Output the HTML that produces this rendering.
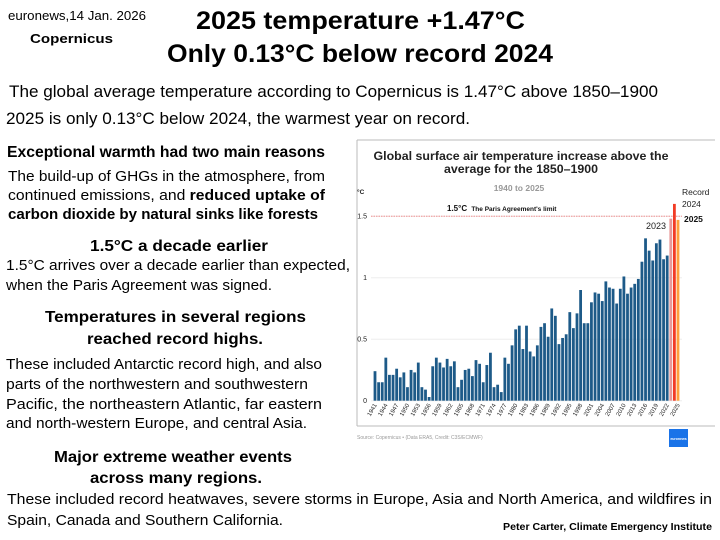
<!DOCTYPE html>
<html><head><meta charset="utf-8"><style>
html,body{margin:0;padding:0;background:#fff;}
svg{display:block;font-family:"Liberation Sans",sans-serif;}
</style></head><body>
<svg id="page" width="720" height="540" viewBox="0 0 720 540">
<g fill="#000">
<text x="8" y="20" font-size="13" textLength="138" lengthAdjust="spacingAndGlyphs">euronews,14 Jan. 2026</text>
<text x="30" y="43" font-size="13" font-weight="bold" textLength="83" lengthAdjust="spacingAndGlyphs">Copernicus</text>
<text x="196" y="29" font-size="25" font-weight="bold" textLength="329" lengthAdjust="spacingAndGlyphs">2025 temperature +1.47°C</text>
<text x="167" y="62" font-size="25" font-weight="bold" textLength="386" lengthAdjust="spacingAndGlyphs">Only 0.13°C below record 2024</text>
<text x="9" y="97" font-size="17" textLength="649" lengthAdjust="spacingAndGlyphs">The global average temperature according to Copernicus is 1.47°C above 1850–1900</text>
<text x="6" y="124" font-size="17" textLength="464" lengthAdjust="spacingAndGlyphs">2025 is only 0.13°C below 2024, the warmest year on record.</text>

<text x="7" y="157" font-size="16" font-weight="bold" textLength="318" lengthAdjust="spacingAndGlyphs">Exceptional warmth had two main reasons</text>
<text x="8" y="181" font-size="14.5" textLength="317" lengthAdjust="spacingAndGlyphs">The build-up of GHGs in the atmosphere, from</text>
<text x="8" y="200" font-size="14.5" textLength="317" lengthAdjust="spacingAndGlyphs">continued emissions, and <tspan font-weight="bold">reduced uptake of</tspan></text>
<text x="8" y="219" font-size="14.5" font-weight="bold" textLength="310" lengthAdjust="spacingAndGlyphs">carbon dioxide by natural sinks like forests</text>

<text x="90" y="251" font-size="16" font-weight="bold" textLength="178" lengthAdjust="spacingAndGlyphs">1.5°C a decade earlier</text>
<text x="6" y="270" font-size="14.5" textLength="344" lengthAdjust="spacingAndGlyphs">1.5°C  arrives over a decade earlier than expected,</text>
<text x="6" y="290" font-size="14.5" textLength="266" lengthAdjust="spacingAndGlyphs">when the Paris Agreement  was signed.</text>

<text x="45" y="322" font-size="16" font-weight="bold" textLength="261" lengthAdjust="spacingAndGlyphs">Temperatures in several regions</text>
<text x="87" y="344" font-size="16" font-weight="bold" textLength="176" lengthAdjust="spacingAndGlyphs">reached record highs.</text>
<text x="6" y="369" font-size="14.5" textLength="316" lengthAdjust="spacingAndGlyphs">These included Antarctic record high, and also</text>
<text x="6" y="389" font-size="14.5" textLength="302" lengthAdjust="spacingAndGlyphs">parts of the northwestern and southwestern</text>
<text x="6" y="409" font-size="14.5" textLength="316" lengthAdjust="spacingAndGlyphs">Pacific, the northeastern Atlantic, far eastern</text>
<text x="6" y="428" font-size="14.5" textLength="301" lengthAdjust="spacingAndGlyphs">and north-western Europe, and central Asia.</text>

<text x="54" y="462" font-size="16" font-weight="bold" textLength="238" lengthAdjust="spacingAndGlyphs">Major extreme weather events</text>
<text x="90" y="483" font-size="16" font-weight="bold" textLength="172" lengthAdjust="spacingAndGlyphs">across many regions.</text>
<text x="7" y="504" font-size="14.5" textLength="705" lengthAdjust="spacingAndGlyphs">These included record heatwaves, severe storms in Europe, Asia and North America, and wildfires in</text>
<text x="7" y="525" font-size="14.5" textLength="276" lengthAdjust="spacingAndGlyphs">Spain, Canada and Southern California.</text>
<text x="503" y="530" font-size="10" font-weight="bold" textLength="209" lengthAdjust="spacingAndGlyphs">Peter Carter, Climate Emergency Institute</text>
</g>

<g id="chart">
<line x1="357" y1="140" x2="357" y2="426" stroke="#bbb" stroke-width="1"/>
<line x1="357" y1="426" x2="715" y2="426" stroke="#bbb" stroke-width="1"/>
<line x1="357" y1="140" x2="715" y2="140" stroke="#bbb" stroke-width="1"/>
<text x="521" y="160" font-size="11.5" font-weight="bold" text-anchor="middle" fill="#222" textLength="295" lengthAdjust="spacingAndGlyphs">Global surface air temperature increase above the</text>
<text x="521" y="173" font-size="11.5" font-weight="bold" text-anchor="middle" fill="#222" textLength="154" lengthAdjust="spacingAndGlyphs">average for the 1850–1900</text>
<text x="519" y="191" font-size="8.5" font-weight="bold" text-anchor="middle" fill="#999">1940 to 2025</text>
<text x="357" y="194" font-size="6.5" font-weight="bold" fill="#222">°C</text>
<g id="grid"></g>
<g id="bars"></g>
<g id="xlabels"></g>
<text x="447" y="211" font-size="8" font-weight="bold" fill="#111">1.5°C <tspan font-size="6.5" dx="2">The Paris Agreement's limit</tspan></text>
<text x="646" y="229" font-size="9" fill="#222">2023</text>
<text x="682" y="195" font-size="8.5" fill="#222">Record</text>
<text x="682" y="207" font-size="8.5" fill="#222">2024</text>
<text x="684" y="222" font-size="8.5" font-weight="bold" fill="#111">2025</text>
<text x="357" y="439" font-size="5" fill="#999">Source: Copernicus • (Data ERA5, Credit: C3S/ECMWF)</text>
<rect x="669" y="429" width="19" height="18" fill="#1a73e8"/>
<text x="678.5" y="440" font-size="3.5" fill="#fff" text-anchor="middle" font-weight="bold">euronews</text>
</g>
</svg>
<script>
const years = [];
for (let y = 1941; y <= 2025; y++) years.push(y);
const anomalies = [0.24,0.15,0.15,0.35,0.21,0.21,0.26,0.19,0.23,0.11,0.25,0.23,0.31,0.11,0.09,0.03,0.28,0.35,0.31,0.27,0.34,0.28,0.32,0.11,0.17,0.25,0.26,0.20,0.33,0.30,0.15,0.29,0.39,0.11,0.13,0.07,0.35,0.30,0.45,0.58,0.61,0.42,0.61,0.40,0.36,0.45,0.60,0.63,0.52,0.75,0.69,0.46,0.51,0.54,0.72,0.59,0.71,0.90,0.63,0.63,0.80,0.88,0.87,0.81,0.97,0.92,0.91,0.79,0.91,1.01,0.87,0.92,0.95,0.99,1.13,1.32,1.22,1.14,1.28,1.31,1.15,1.18,1.48,1.60,1.47];
const yTicks = [0, 0.5, 1, 1.5];
const yTickLabels = ["0", "0.5", "1", "1.5"];
const parisLimit = [1.5];

const NS = "http://www.w3.org/2000/svg";
const x0 = 375, x1 = 678, yBase = 400.7, yUnit = 123;
function xScale(i){ return x0 + (x1 - x0) * i / (years.length - 1); }
function yScale(v){ return yBase - v * yUnit; }
function mk(tag, attrs, parent){ const e = document.createElementNS(NS, tag); for (const k in attrs) e.setAttribute(k, attrs[k]); parent.appendChild(e); return e; }

const grid = document.getElementById("grid");
yTicks.forEach((t, i) => {
  const l = mk("line", {x1: 371, x2: 682, y1: yScale(t), y2: yScale(t), stroke: "#eee", "stroke-width": 1}, grid);
  
  
  const tx = mk("text", {x: 367, y: yScale(t) + 2.5, "font-size": 7, "text-anchor": "end", fill: "#222"}, grid);
  tx.textContent = yTickLabels[i];
  
  
});
parisLimit.forEach(v => {
  const l = mk("line", {x1: 371, x2: 682, y1: yScale(v), y2: yScale(v), stroke: "#f08080", "stroke-width": 0.8, "stroke-dasharray": "1.5,1"}, grid);
  
  
});

const bars = document.getElementById("bars");
const bw = 2.8;
years.forEach((yr, i) => {
  const v = anomalies[i];
  let c = "#1d5a88";
  if (yr === 2023) c = "#e89a9a";
  if (yr === 2024) c = "#f23b25";
  if (yr === 2025) c = "#ffa03c";
  const r = mk("rect", {x: xScale(i) - bw/2, y: yScale(v), width: bw, height: yBase - yScale(v), fill: c}, bars);
  
  
});

const xl = document.getElementById("xlabels");
years.forEach((yr, i) => {
  if ((yr - 1941) % 3 !== 0 && yr !== 2025) return;
  const x = xScale(i) + 2, y = 405;
  const t = mk("text", {x: x, y: y, "font-size": 6, "text-anchor": "end", fill: "#222", transform: "rotate(-60 " + x + " " + y + ")"}, xl);
  t.textContent = yr;
  
  
});
</script>
</body></html>
